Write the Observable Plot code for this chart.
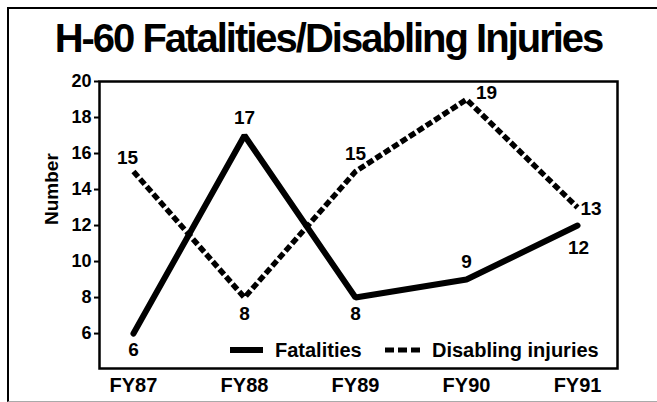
<!DOCTYPE html>
<html>
<head>
<meta charset="utf-8">
<script src="https://cdn.jsdelivr.net/npm/d3@7"></script>
<script src="https://cdn.jsdelivr.net/npm/@observablehq/plot@0.6"></script>
<style>
  html, body { margin: 0; padding: 0; background: white; }
  #wrap { position: relative; width: 657px; height: 402px; overflow: hidden; background: white;
          font-family: "Liberation Sans", Arial, Helvetica, sans-serif; }
  #border { position: absolute; left: 7px; top: 7px; width: 660px; height: 392px;
            border-left: 2px solid #000; border-top: 2px solid #000; border-bottom: 1px solid #aaa;
            pointer-events: none; }
  #title { height: 66px; box-sizing: border-box; padding-top: 18px; line-height: 40px;
           font-size: 40px; font-weight: bold; letter-spacing: -2px; text-align: center; color: #000; }
  #chart svg { display: block; }
  .leg { position: absolute; font-size: 20px; font-weight: bold; line-height: 20px; color: #000; white-space: nowrap; }
</style>
</head>
<body>
<div id="wrap">
  <div id="title">H-60 Fatalities/Disabling Injuries</div>
  <div id="chart"></div>
  <div id="legend"></div>
  <div id="border"></div>
</div>
<script>
// ---- data ----
const years = ["FY87", "FY88", "FY89", "FY90", "FY91"];
const fatalities = [6, 17, 8, 9, 12];
const disabling = [15, 8, 15, 19, 13];
const yTicks = [6, 8, 10, 12, 14, 16, 18, 20];
const seriesNames = ["Fatalities", "Disabling injuries"];
// label placement relative to each point
const fatalPlacement = ["below", "above", "below", "above", "belowFar"];
const disPlacement = ["aboveLeft", "below", "above", "aboveRight", "right"];

const placements = {
  below:      {dx: 0,  dy: 16,  textAnchor: "middle"},
  belowFar:   {dx: 1,  dy: 22,  textAnchor: "middle"},
  above:      {dx: 0,  dy: -18, textAnchor: "middle"},
  aboveLeft:  {dx: -6, dy: -14, textAnchor: "middle"},
  aboveRight: {dx: 20, dy: -7,  textAnchor: "middle"},
  right:      {dx: 3,  dy: 1,   textAnchor: "start"}
};

const fatalRows = years.map((y, i) => ({i, year: y, v: fatalities[i], pos: fatalPlacement[i]}));
const disRows = years.map((y, i) => ({i, year: y, v: disabling[i], pos: disPlacement[i]}));
const allLabels = fatalRows.concat(disRows);

const labelMarks = Object.entries(placements).map(([key, p]) =>
  Plot.text(allLabels.filter(r => r.pos === key), {
    x: "i", y: "v", text: d => String(d.v),
    dx: p.dx, dy: p.dy, textAnchor: p.textAnchor,
    fontSize: 19, fontWeight: "bold", fill: "black"
  })
);

const chart = Plot.plot({
  width: 657,
  height: 336,
  marginTop: 15,
  marginBottom: 34,
  marginLeft: 99,
  marginRight: 40,
  x: {type: "linear", domain: [-0.306, 4.36]},
  y: {domain: [4.06, 20]},
  style: {fontFamily: "'Liberation Sans', Arial, Helvetica, sans-serif", background: "white", color: "black", overflow: "visible"},
  marks: [
    Plot.axisY({ticks: yTicks, tickSize: 5, tickPadding: 3, fontSize: 18, fontWeight: "bold", label: null, strokeWidth: 2}),
    Plot.axisX({ticks: [0, 1, 2, 3, 4], tickFormat: i => years[i], tickSize: 0, tickPadding: 9, fontSize: 20, fontWeight: "bold", label: null}),
    Plot.text(["Number"], {frameAnchor: "left", text: d => d, rotate: -90, dx: -48, fontSize: 19, fontWeight: "bold"}),
    Plot.line(disRows, {x: "i", y: "v", stroke: "black", strokeWidth: 5.5, strokeDasharray: "7,3", strokeLinecap: "butt", strokeLinejoin: "miter"}),
    Plot.line(fatalRows, {x: "i", y: "v", stroke: "black", strokeWidth: 6, strokeLinejoin: "miter", strokeLinecap: "round"}),
    ...labelMarks,
    Plot.frame({stroke: "black", strokeWidth: 2.5})
  ]
});
document.getElementById("chart").appendChild(chart);

// ---- legend (inside plot, bottom right) ----
const legend = document.getElementById("legend");
legend.innerHTML = `
  <svg class="leg" style="left:230px;top:346px" width="34" height="8"><line x1="0" y1="4" x2="33" y2="4" stroke="black" stroke-width="6"/></svg>
  <div class="leg" style="left:275px;top:340px">${seriesNames[0]}</div>
  <svg class="leg" style="left:385px;top:346px" width="36" height="8"><line x1="0" y1="4" x2="36" y2="4" stroke="black" stroke-width="5" stroke-dasharray="9,4" stroke-linecap="butt"/></svg>
  <div class="leg" style="left:432px;top:340px">${seriesNames[1]}</div>
`;
</script>
</body>
</html>
